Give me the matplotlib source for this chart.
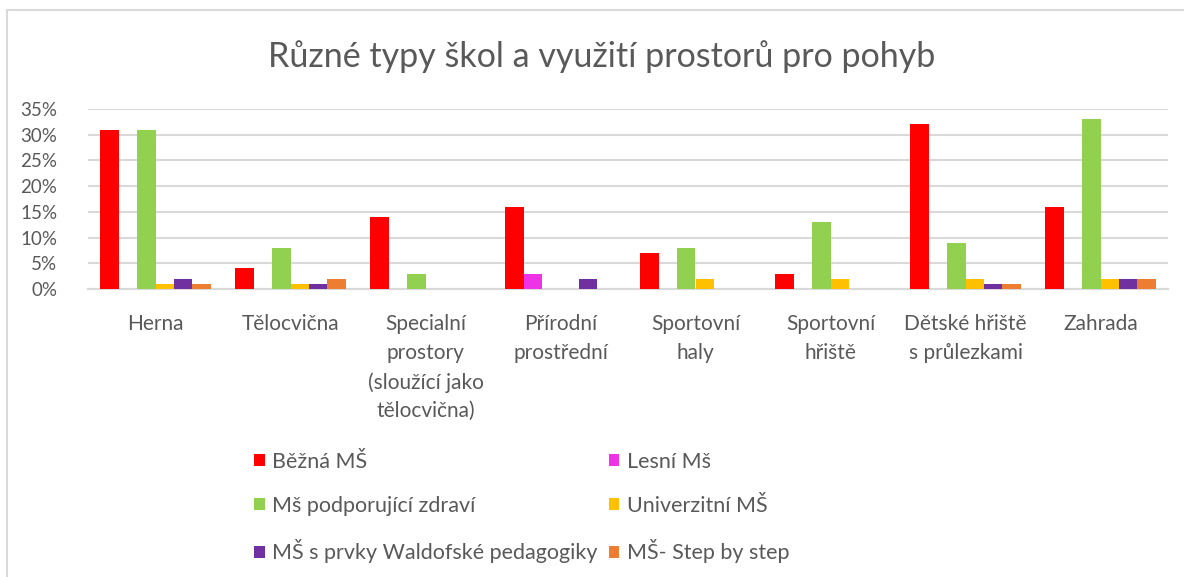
import numpy as np
import matplotlib.pyplot as plt
from matplotlib.patches import Rectangle
from matplotlib.ticker import PercentFormatter

plt.rcParams['font.family'] = ['Lato', 'DejaVu Sans']

# Kategorie a hodnoty (v %)
categories = ['Herna', 'Tělocvična', 'Specialní\nprostory\n(sloužící jako\ntělocvična)',
              'Přírodní\nprostřední', 'Sportovní\nhaly', 'Sportovní\nhřiště',
              'Dětské hřiště\ns průlezkami', 'Zahrada']
series_names = ['Běžná MŠ', 'Lesní Mš', 'Mš podporující zdraví', 'Univerzitní MŠ',
                'MŠ s prvky Waldofské pedagogiky', 'MŠ- Step by step']
bezna = [31, 4, 14, 16, 7, 3, 32, 16]
lesni = [0, 0, 0, 3, 0, 0, 0, 0]
zdravi = [31, 8, 3, 0, 8, 13, 9, 33]
univerzitni = [1, 1, 0, 0, 2, 2, 2, 2]
waldorf = [2, 1, 0, 2, 0, 0, 1, 2]
step = [1, 2, 0, 0, 0, 0, 1, 2]
values = [bezna, lesni, zdravi, univerzitni, waldorf, step]
colors = ['#FF0000', '#EE33E6', '#92D050', '#FFC000', '#7030A0', '#ED7D31']

text_col = '#595959'
grid_col = '#D9D9D9'

fig = plt.figure(figsize=(11.84, 5.77), dpi=100)
ax = fig.add_axes([88 / 1184, 1 - 289 / 577, (1168 - 88) / 1184, 180 / 577])

# rámeček kolem grafu
fig.patches.append(Rectangle((7 / 1184, -0.1), 1.2, 1 - 10 / 577 + 0.1,
                             transform=fig.transFigure, fill=False,
                             edgecolor=grid_col, linewidth=1.5))

x = np.arange(len(categories))
w = 0.137
handles = []
for i, (vals, c, name) in enumerate(zip(values, colors, series_names)):
    b = ax.bar(x + (i - 2.5) * w, vals, width=w, color=c, label=name, zorder=3)
    handles.append(b)

ax.set_xlim(-0.5, len(categories) - 0.5)
ax.set_ylim(0, 35)
ax.set_yticks(np.arange(0, 36, 5))
ax.yaxis.set_major_formatter(PercentFormatter(decimals=0))
ax.grid(axis='y', color=grid_col, linewidth=1.5, zorder=0)
for s in ['top', 'right', 'left']:
    ax.spines[s].set_visible(False)
ax.spines['bottom'].set_color(grid_col)
ax.spines['bottom'].set_linewidth(1.5)
ax.set_xticks(x)
ax.set_xticklabels(categories, fontsize=15, color=text_col, linespacing=1.55, va='top')
ax.tick_params(axis='x', length=0, pad=18)
ax.tick_params(axis='y', length=0, labelsize=13.5, labelcolor=text_col, pad=22)

fig.text(602 / 1184, 1 - 57 / 577, 'Různé typy škol a využití prostorů pro pohyb',
         ha='center', va='center', fontsize=24.5, color=text_col)

# legenda: po řádcích, proto přeskládat pro ncol=2
order = [0, 2, 4, 1, 3, 5]
fig.legend([handles[k] for k in order], [series_names[k] for k in order],
           ncol=2, loc='upper left', bbox_to_anchor=(254 / 1184, 1 - 452 / 577),
           frameon=False, fontsize=15.5, labelcolor=text_col,
           handlelength=0.5, handleheight=0.5, handletextpad=0.35,
           labelspacing=1.1, columnspacing=0.5, borderaxespad=0, borderpad=0)

fig.savefig('out.png', dpi=100)
